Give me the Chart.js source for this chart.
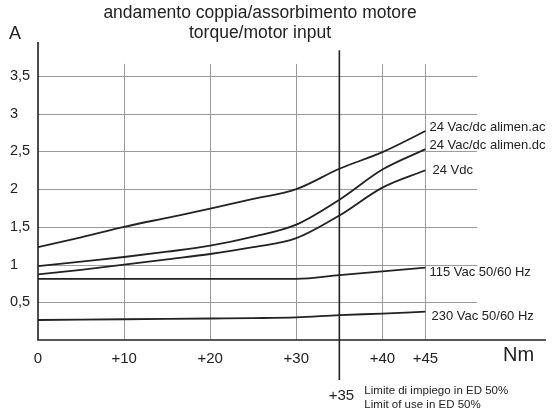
<!DOCTYPE html>
<html>
<head>
<meta charset="utf-8">
<script src="https://cdn.jsdelivr.net/npm/chart.js@4"></script>
<style>
  html, body { margin: 0; padding: 0; background: #fff; }
  #wrap { width: 554px; height: 414px; }
</style>
</head>
<body>
<div id="wrap"><canvas id="torqueChart" width="554" height="414"></canvas></div>
<script>
const torque = [0, 5, 10, 15, 20, 25, 30, 35, 40, 45];
const vacdcAc = [1.23, 1.36, 1.50, 1.62, 1.74, 1.87, 2.00, 2.27, 2.49, 2.77];
const vacdcDc = [0.98, 1.04, 1.10, 1.17, 1.25, 1.37, 1.53, 1.86, 2.26, 2.53];
const vdc24 = [0.87, 0.93, 1.00, 1.07, 1.14, 1.23, 1.35, 1.65, 2.02, 2.25];
const vac115 = [0.81, 0.81, 0.81, 0.81, 0.81, 0.81, 0.81, 0.86, 0.91, 0.96];
const vac230 = [0.265, 0.27, 0.275, 0.28, 0.285, 0.29, 0.30, 0.33, 0.35, 0.375];

const seriesNames = ['24 Vac/dc alimen.ac', '24 Vac/dc alimen.dc', '24 Vdc', '115 Vac 50/60 Hz', '230 Vac 50/60 Hz'];
const xTicks = [0, 10, 20, 30, 40, 45];
const yTicks = [0.5, 1, 1.5, 2, 2.5, 3, 3.5];
const limitTorque = 35;
const titleLines = ['andamento coppia/assorbimento motore', 'torque/motor input'];
const limitNotes = ['Limite di impiego in ED 50%', 'Limit of use in ED 50%'];

const ink = '#222';
const gridColor = '#9a9a9a';
const font = '"Liberation Sans", Arial, sans-serif';

// offsets of the end labels from the last point of each curve
const labelOffsets = [[4, -4], [4, -4], [7, 0], [4, 5], [6, 5]];

const frame = {
  id: 'frame',
  beforeDatasetsDraw(chart) {
    const { ctx, scales: { x, y } } = chart;
    const x0 = x.getPixelForValue(0);
    const y0 = y.getPixelForValue(0);
    ctx.save();
    ctx.lineWidth = 1;
    ctx.strokeStyle = gridColor;
    // horizontal grid
    yTicks.forEach(v => {
      const py = Math.round(y.getPixelForValue(v)) + 0.5;
      ctx.beginPath();
      ctx.moveTo(x0, py);
      ctx.lineTo(x.getPixelForValue(51), py);
      ctx.stroke();
    });
    // vertical grid
    xTicks.slice(1).forEach(v => {
      const px = Math.round(x.getPixelForValue(v)) + 0.5;
      ctx.beginPath();
      ctx.moveTo(px, y0);
      ctx.lineTo(px, y.getPixelForValue(3.66));
      ctx.stroke();
    });
    // axes
    ctx.strokeStyle = ink;
    ctx.lineWidth = 1.6;
    ctx.beginPath();
    ctx.moveTo(x0, y.getPixelForValue(3.95));
    ctx.lineTo(x0, y0);
    ctx.lineTo(x.right, y0);
    ctx.stroke();
    // limit of use line
    const lx = x.getPixelForValue(limitTorque);
    ctx.beginPath();
    ctx.moveTo(lx, y.getPixelForValue(3.84));
    ctx.lineTo(lx, y0 + 40);
    ctx.stroke();
    ctx.restore();
  },
  afterDraw(chart) {
    const { ctx, scales: { x, y } } = chart;
    ctx.save();
    ctx.fillStyle = ink;
    ctx.textBaseline = 'middle';

    ctx.textAlign = 'center';
    ctx.font = '17.5px ' + font;
    ctx.fillText(titleLines[0], 260, 13);
    ctx.fillText(titleLines[1], 260, 33);

    ctx.textAlign = 'left';
    ctx.font = '18px ' + font;
    ctx.fillText('A', 9, 34);
    ctx.font = '20px ' + font;
    ctx.fillText('Nm', 503, 355);

    ctx.font = '13px ' + font;
    chart.data.datasets.forEach((ds, i) => {
      const last = ds.data.length - 1;
      const px = x.getPixelForValue(torque[last]) + labelOffsets[i][0];
      const py = y.getPixelForValue(ds.data[last]) + labelOffsets[i][1];
      ctx.fillText(seriesNames[i], px, py);
    });

    const lx = x.getPixelForValue(limitTorque);
    ctx.textAlign = 'center';
    ctx.font = '15px ' + font;
    ctx.fillText('+' + limitTorque, lx + 2, 396);
    ctx.textAlign = 'left';
    ctx.font = '11.5px ' + font;
    ctx.fillText(limitNotes[0], lx + 25, 391);
    ctx.fillText(limitNotes[1], lx + 25, 405);
    ctx.restore();
  }
};

const line = data => ({
  data: data,
  borderColor: ink,
  borderWidth: 1.8,
  pointRadius: 0,
  fill: false,
  cubicInterpolationMode: 'monotone',
});

new Chart(document.getElementById('torqueChart').getContext('2d'), {
  type: 'line',
  data: {
    labels: torque,
    datasets: [line(vacdcAc), line(vacdcDc), line(vdc24), line(vac115), line(vac230)],
  },
  options: {
    responsive: false,
    animation: false,
    layout: { padding: { top: 42, right: 8, left: 10, bottom: 0 } },
    plugins: {
      legend: { display: false },
      tooltip: { enabled: false },
    },
    scales: {
      x: {
        type: 'linear',
        min: 0,
        max: 59,
        afterBuildTicks: s => { s.ticks = xTicks.map(v => ({ value: v })); },
        afterFit: s => { s.height = 74; },
        grid: { display: false, drawTicks: false },
        border: { display: false },
        ticks: {
          autoSkip: false,
          maxRotation: 0,
          padding: 10,
          color: ink,
          font: { family: font, size: 15 },
          callback: v => (v === 0 ? '0' : '+' + v),
        },
      },
      y: {
        min: 0,
        max: 3.95,
        afterBuildTicks: s => { s.ticks = yTicks.map(v => ({ value: v })); },
        afterFit: s => { s.width = 28; },
        grid: { display: false, drawTicks: false },
        border: { display: false },
        ticks: {
          crossAlign: 'far',
          color: ink,
          font: { family: font, size: 14.5 },
          callback: v => String(v).replace('.', ','),
        },
      },
    },
  },
  plugins: [frame],
});
</script>
</body>
</html>
